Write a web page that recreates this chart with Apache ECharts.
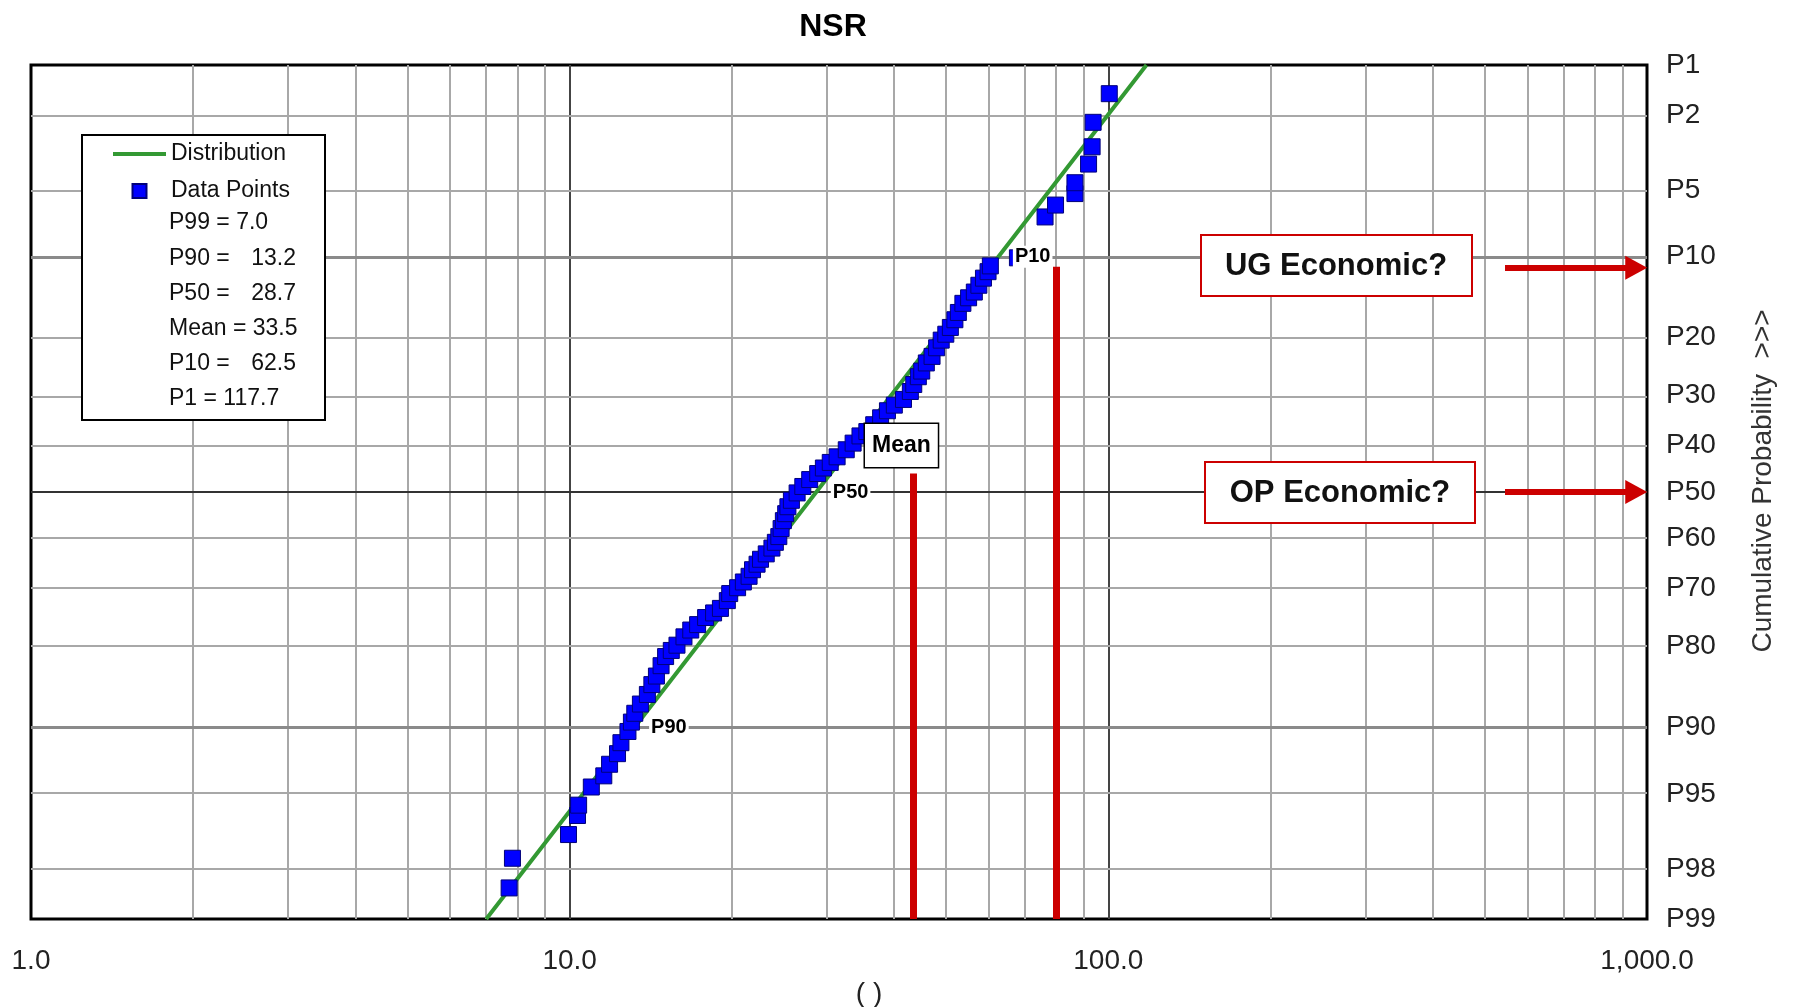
<!DOCTYPE html>
<html>
<head>
<meta charset="utf-8">
<title>NSR</title>
<script src="https://cdn.jsdelivr.net/npm/echarts@6/dist/echarts.min.js"></script>
<style>
  html, body { margin: 0; padding: 0; background: #fff; }
  #chart { width: 1794px; height: 1007px; }
</style>
</head>
<body>
<div id="chart"></div>
<script>
// Probability (exceedance %) ticks on the right-hand axis
const probTicks = [1, 2, 5, 10, 20, 30, 40, 50, 60, 70, 80, 90, 95, 98, 99];
const probMajor = [10, 90];
const probCentre = [50];
const probMinor = [2, 5, 20, 30, 40, 60, 70, 80, 95, 98];

// Log-axis grid values
const xMajor = [10, 100];
const xMinor = [2, 3, 4, 5, 6, 7, 8, 9, 20, 30, 40, 50, 60, 70, 80, 90, 200, 300, 400, 500, 600, 700, 800, 900];

// Fitted lognormal distribution (P99, P90, P50, P10, P1)
const distProbs = [99, 90, 50, 10, 1];
const distValues = [7.0, 13.2, 28.7, 62.5, 117.7];

// Observed data points: value and exceedance probability (%)
const pointValues = [
  7.72, 7.83, 9.95, 10.34, 10.39, 10.97, 11.57, 11.86, 12.27, 12.45,
  12.83, 13.02, 13.21, 13.53, 13.94, 14.21, 14.49, 14.78, 15.07, 15.44,
  15.82, 16.30, 16.78, 17.28, 17.88, 18.50, 19.05, 19.62, 19.82, 20.50,
  21.01, 21.53, 21.85, 22.28, 22.61, 23.17, 23.74, 24.09, 24.45, 24.69,
  24.93, 25.18, 25.42, 25.80, 26.44, 27.09, 27.90, 28.87, 29.58, 30.46,
  31.37, 32.62, 33.59, 34.59, 35.62, 36.68, 37.78, 38.90, 40.06, 41.66,
  42.90, 43.53, 44.39, 45.04, 45.93, 47.07, 48.00, 48.95, 49.92, 50.90,
  51.90, 52.67, 53.70, 55.03, 56.39, 57.50, 58.64, 59.80, 60.39, 67.8,
  76.3, 79.8, 86.7, 86.7, 91.9, 93.3, 93.7, 100.4
];
const pointProbs = [
  98.45, 97.7, 96.9, 96.1, 95.6, 94.6, 93.9, 93.1, 92.3, 91.4,
  90.4, 89.5, 88.6, 87.6, 86.5, 85.3, 84.2, 82.8, 81.5, 80.6,
  79.8, 78.5, 77.4, 76.5, 75.3, 74.5, 73.7, 72.3, 71.0, 69.9,
  68.8, 67.7, 66.4, 65.3, 64.3, 63.2, 62.0, 60.8, 59.6, 57.9,
  56.2, 54.7, 53.2, 51.8, 50.2, 48.8, 47.3, 46.0, 44.8, 43.6,
  42.4, 40.9, 39.5, 38.0, 37.1, 35.7, 34.3, 32.9, 31.8, 30.7,
  29.2, 27.9, 26.5, 25.5, 24.1, 23.0, 21.6, 20.4, 19.5, 18.5,
  17.4, 16.4, 15.2, 14.5, 13.8, 13.0, 12.2, 11.5, 10.9, 10.1,
  6.7, 5.9, 5.2, 4.6, 3.7, 3.0, 2.2, 1.5
];

// Labelled markers on the distribution line
const markerNames = ['P90', 'P50', 'Mean', 'P10'];
const markerValues = [13.2, 28.7, 33.5, 62.5];
const markerProbs = [90, 50, 40, 10];

// Economic cut-off lines: value and exceedance % where each line starts
const cutoffValues = [43.5, 80.1];
const cutoffTopProbs = [46, 11];

// Arrows pointing at the right-hand probability axis
const arrowProbs = [11.1, 50];
const arrowFrom = 545;
const arrowTo = 955;

// Statistics listed under the legend
const statRows = [
  { left: 'P99 = 7.0' },
  { left: 'P90 =', right: '13.2' },
  { left: 'P50 =', right: '28.7' },
  { left: 'Mean = 33.5' },
  { left: 'P10 =', right: '62.5' },
  { left: 'P1 = 117.7' }
];

const FONT = "'Liberation Sans', Arial, sans-serif";

// Inverse standard normal CDF (Acklam)
function normInv(p) {
  const a = [-3.969683028665376e+01, 2.209460984245205e+02, -2.759285104469687e+02, 1.383577518672690e+02, -3.066479806614716e+01, 2.506628277459239e+00];
  const b = [-5.447609879822406e+01, 1.615858368580409e+02, -1.556989798598866e+02, 6.680131188771972e+01, -1.328068155288572e+01];
  const c = [-7.784894002430293e-03, -3.223964580411365e-01, -2.400758277161838e+00, -2.549671291834994e+00, 4.374664141464968e+00, 2.938163982698783e+00];
  const d = [7.784695709041462e-03, 3.224671290700398e-01, 2.445134137142996e+00, 3.754408661907416e+00];
  const pl = 0.02425, ph = 1 - pl;
  let q, r;
  if (p < pl) {
    q = Math.sqrt(-2 * Math.log(p));
    return (((((c[0] * q + c[1]) * q + c[2]) * q + c[3]) * q + c[4]) * q + c[5]) / ((((d[0] * q + d[1]) * q + d[2]) * q + d[3]) * q + 1);
  }
  if (p <= ph) {
    q = p - 0.5; r = q * q;
    return (((((a[0] * r + a[1]) * r + a[2]) * r + a[3]) * r + a[4]) * r + a[5]) * q / (((((b[0] * r + b[1]) * r + b[2]) * r + b[3]) * r + b[4]) * r + 1);
  }
  q = Math.sqrt(-2 * Math.log(1 - p));
  return -(((((c[0] * q + c[1]) * q + c[2]) * q + c[3]) * q + c[4]) * q + c[5]) / ((((d[0] * q + d[1]) * q + d[2]) * q + d[3]) * q + 1);
}
// Exceedance probability (%) -> probability-axis position (normal score)
const toZ = (pct) => normInv(1 - pct / 100);

const zTop = toZ(1);
const zBottom = toZ(99);

function probLabel(z) {
  let best = probTicks[0], bd = Infinity;
  probTicks.forEach((p) => { const dd = Math.abs(toZ(p) - z); if (dd < bd) { bd = dd; best = p; } });
  return 'P' + best;
}

const gridLine = (color, width) => ({ color, width, type: 'solid' });

const textStyleOf = (text, size, align, weight) => ({
  text, fontFamily: FONT, fontSize: size, fontWeight: weight || 'normal', fill: '#111',
  align, textAlign: align, verticalAlign: 'middle', textVerticalAlign: 'middle'
});

const chart = echarts.init(document.getElementById('chart'));

const option = {
  animation: false,
  backgroundColor: '#fff',
  textStyle: { fontFamily: FONT },
  title: {
    text: 'NSR',
    left: 833,
    top: 11,
    textAlign: 'center',
    padding: 0,
    textStyle: { fontFamily: FONT, fontSize: 32, fontWeight: 'bold', color: '#000' }
  },
  legend: {
    orient: 'vertical',
    left: 113,
    top: 141,
    padding: 0,
    itemWidth: 53,
    itemHeight: 14,
    itemGap: 11,
    selectedMode: false,
    z: 12,
    textStyle: { fontFamily: FONT, fontSize: 23, color: '#111', lineHeight: 26 },
    data: [
      { name: 'Distribution', icon: 'path://M0,0H53V4H0Z' },
      { name: 'Data Points', icon: 'path://M0,0H10V10H0Z' }
    ]
  },
  grid: {
    left: 31, right: 147, top: 65, bottom: 88,
    containLabel: false,
    outerBoundsMode: 'none',
    show: true,
    borderColor: '#000',
    borderWidth: 3,
    backgroundColor: '#fff'
  },
  xAxis: {
    type: 'log',
    logBase: 10,
    min: 1,
    max: 1000,
    name: '( )',
    nameLocation: 'middle',
    nameGap: 57,
    nameTextStyle: { fontFamily: FONT, fontSize: 28, color: '#222', padding: [0, 0, 0, 60] },
    axisLine: { show: false },
    axisTick: { show: false },
    splitLine: { show: false },
    minorSplitLine: { show: false },
    axisLabel: {
      fontFamily: FONT, fontSize: 28, color: '#222', margin: 28,
      showMinLabel: true, showMaxLabel: true,
      formatter: (v) => Number(v).toLocaleString('en-US', { minimumFractionDigits: 1, maximumFractionDigits: 1 })
    }
  },
  yAxis: {
    type: 'value',
    position: 'right',
    min: zBottom,
    max: zTop,
    name: 'Cumulative Probability  >>>',
    nameLocation: 'middle',
    nameRotate: 90,
    nameGap: 102,
    nameTextStyle: { fontFamily: FONT, fontSize: 28, color: '#333', padding: [0, 0, 0, 22] },
    axisLine: { show: false },
    axisTick: { show: false },
    splitLine: { show: false },
    axisLabel: {
      fontFamily: FONT, fontSize: 28, color: '#222', margin: 19,
      customValues: probTicks.map(toZ),
      formatter: (v) => probLabel(v)
    }
  },
  // Legend box with statistics, and the two economic call-outs
  graphic: {
    z: 10,
    elements: [
      {
        type: 'rect', z: 10, z2: 1, silent: true,
        shape: { x: 82, y: 135, width: 243, height: 285 },
        style: { fill: '#fff', stroke: '#000', lineWidth: 2 }
      },
      ...statRows.flatMap((row, i) => {
        const y = 223 + i * 35.2;
        const out = [{ type: 'text', z: 11, z2: 5, silent: true, x: 169, y, style: textStyleOf(row.left, 23, 'left') }];
        if (row.right) {
          out.push({ type: 'text', z: 11, z2: 5, silent: true, x: 296, y, style: textStyleOf(row.right, 23, 'right') });
        }
        return out;
      }),
      {
        type: 'rect', z: 10, z2: 1, silent: true,
        shape: { x: 1201, y: 235, width: 271, height: 61 },
        style: { fill: '#fff', stroke: '#cc0000', lineWidth: 2 }
      },
      { type: 'text', z: 11, z2: 5, silent: true, x: 1336, y: 266, style: textStyleOf('UG Economic?', 31, 'center', 'bold') },
      {
        type: 'rect', z: 10, z2: 1, silent: true,
        shape: { x: 1205, y: 462, width: 270, height: 61 },
        style: { fill: '#fff', stroke: '#cc0000', lineWidth: 2 }
      },
      { type: 'text', z: 11, z2: 5, silent: true, x: 1340, y: 493, style: textStyleOf('OP Economic?', 31, 'center', 'bold') }
    ]
  },
  series: [
    // Grid lines of the log-probability paper
    {
      name: 'grid',
      type: 'line',
      data: [],
      z: 1,
      silent: true,
      markLine: {
        z: 1,
        silent: true,
        symbol: 'none',
        animation: false,
        label: { show: false },
        data: [
          ...xMinor.map((v) => ({ xAxis: v, lineStyle: gridLine('#a8a8a8', 2) })),
          ...xMajor.map((v) => ({ xAxis: v, lineStyle: gridLine('#444', 2) })),
          ...probMinor.map((p) => ({ yAxis: toZ(p), lineStyle: gridLine('#a8a8a8', 2) })),
          ...probMajor.map((p) => ({ yAxis: toZ(p), lineStyle: gridLine('#8a8a8a', 3) })),
          ...probCentre.map((p) => ({ yAxis: toZ(p), lineStyle: gridLine('#333', 2) }))
        ]
      }
    },
    {
      name: 'Distribution',
      type: 'line',
      z: 2,
      symbol: 'none',
      showSymbol: false,
      lineStyle: { color: '#339933', width: 4 },
      itemStyle: { color: '#339933' },
      data: distValues.map((v, i) => [v, toZ(distProbs[i])])
    },
    {
      name: 'Data Points',
      type: 'scatter',
      z: 3,
      symbol: 'rect',
      symbolSize: 16,
      itemStyle: { color: '#0000ff', borderColor: '#00007a', borderWidth: 1, opacity: 1 },
      data: pointValues.map((v, i) => [v, toZ(pointProbs[i])])
    },
    // Annotations: cut-off lines, arrows and labelled markers
    {
      name: 'annotations',
      type: 'line',
      data: [],
      z: 4,
      silent: true,
      markLine: {
        z: 4,
        silent: true,
        animation: false,
        label: { show: false },
        data: [
          ...cutoffValues.map((v, i) => [
            { coord: [v, toZ(cutoffTopProbs[i])], symbol: 'none', lineStyle: { color: '#cc0000', width: 7, type: 'solid' } },
            { coord: [v, zBottom], symbol: 'none' }
          ]),
          ...arrowProbs.map((p) => [
            { coord: [arrowFrom, toZ(p)], symbol: 'none', lineStyle: { color: '#cc0000', width: 6, type: 'solid' } },
            { coord: [arrowTo, toZ(p)], symbol: 'triangle', symbolSize: [24, 22], itemStyle: { color: '#cc0000' } }
          ])
        ]
      },
      markPoint: {
        z: 5,
        silent: true,
        animation: false,
        symbol: 'circle',
        symbolSize: 1,
        itemStyle: { color: 'rgba(0,0,0,0)' },
        label: {
          show: true,
          position: 'right',
          distance: 14,
          formatter: '{b}',
          fontFamily: FONT,
          fontSize: 20,
          fontWeight: 'bold',
          color: '#000',
          backgroundColor: '#fff',
          padding: [1, 2]
        },
        data: markerNames.map((n, i) => {
          const item = { name: n, coord: [markerValues[i], toZ(markerProbs[i])] };
          if (n === 'Mean') {
            item.label = { fontSize: 23, padding: [10, 7], borderColor: '#000', borderWidth: 1.5, distance: 12 };
          }
          return item;
        })
      }
    }
  ]
};

chart.setOption(option);
</script>
</body>
</html>
